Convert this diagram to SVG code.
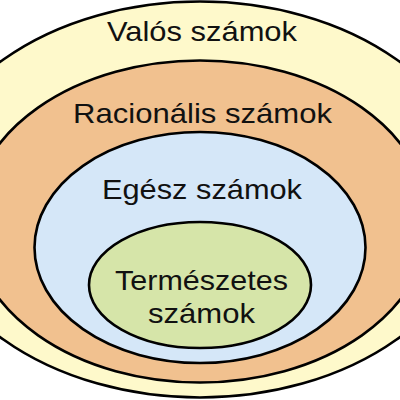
<svg xmlns="http://www.w3.org/2000/svg" width="400" height="400" viewBox="0 0 400 400">
<style>
.set{stroke:#000;stroke-width:2.6}
.lbl{font-family:"Liberation Sans",Arial,sans-serif;font-size:28.5px;fill:#111;text-anchor:middle}
</style>
<rect width="400" height="400" fill="#fff"/>
<g id="valos">
<ellipse class="set" cx="200" cy="199.5" rx="278" ry="198" fill="#FEF9CB"/>
<text class="lbl" x="202" y="41" textLength="190" lengthAdjust="spacingAndGlyphs">Valós számok</text>
</g>
<g id="racionalis">
<ellipse class="set" cx="200" cy="221.5" rx="229" ry="161" fill="#F1C18F"/>
<text class="lbl" x="202.5" y="123" textLength="259" lengthAdjust="spacingAndGlyphs">Racionális számok</text>
</g>
<g id="egesz">
<ellipse class="set" cx="200" cy="247.5" rx="165.5" ry="115.5" fill="#D5E7F8"/>
<text class="lbl" x="202" y="199" textLength="200" lengthAdjust="spacingAndGlyphs">Egész számok</text>
</g>
<g id="termeszetes">
<ellipse class="set" cx="200" cy="285" rx="111" ry="63" fill="#D6E5A9"/>
<text class="lbl" x="201.5" y="290" textLength="173" lengthAdjust="spacingAndGlyphs">Természetes</text>
<text class="lbl" x="201.5" y="323" textLength="107" lengthAdjust="spacingAndGlyphs">számok</text>
</g>
<g id="connectors"/>
</svg>
